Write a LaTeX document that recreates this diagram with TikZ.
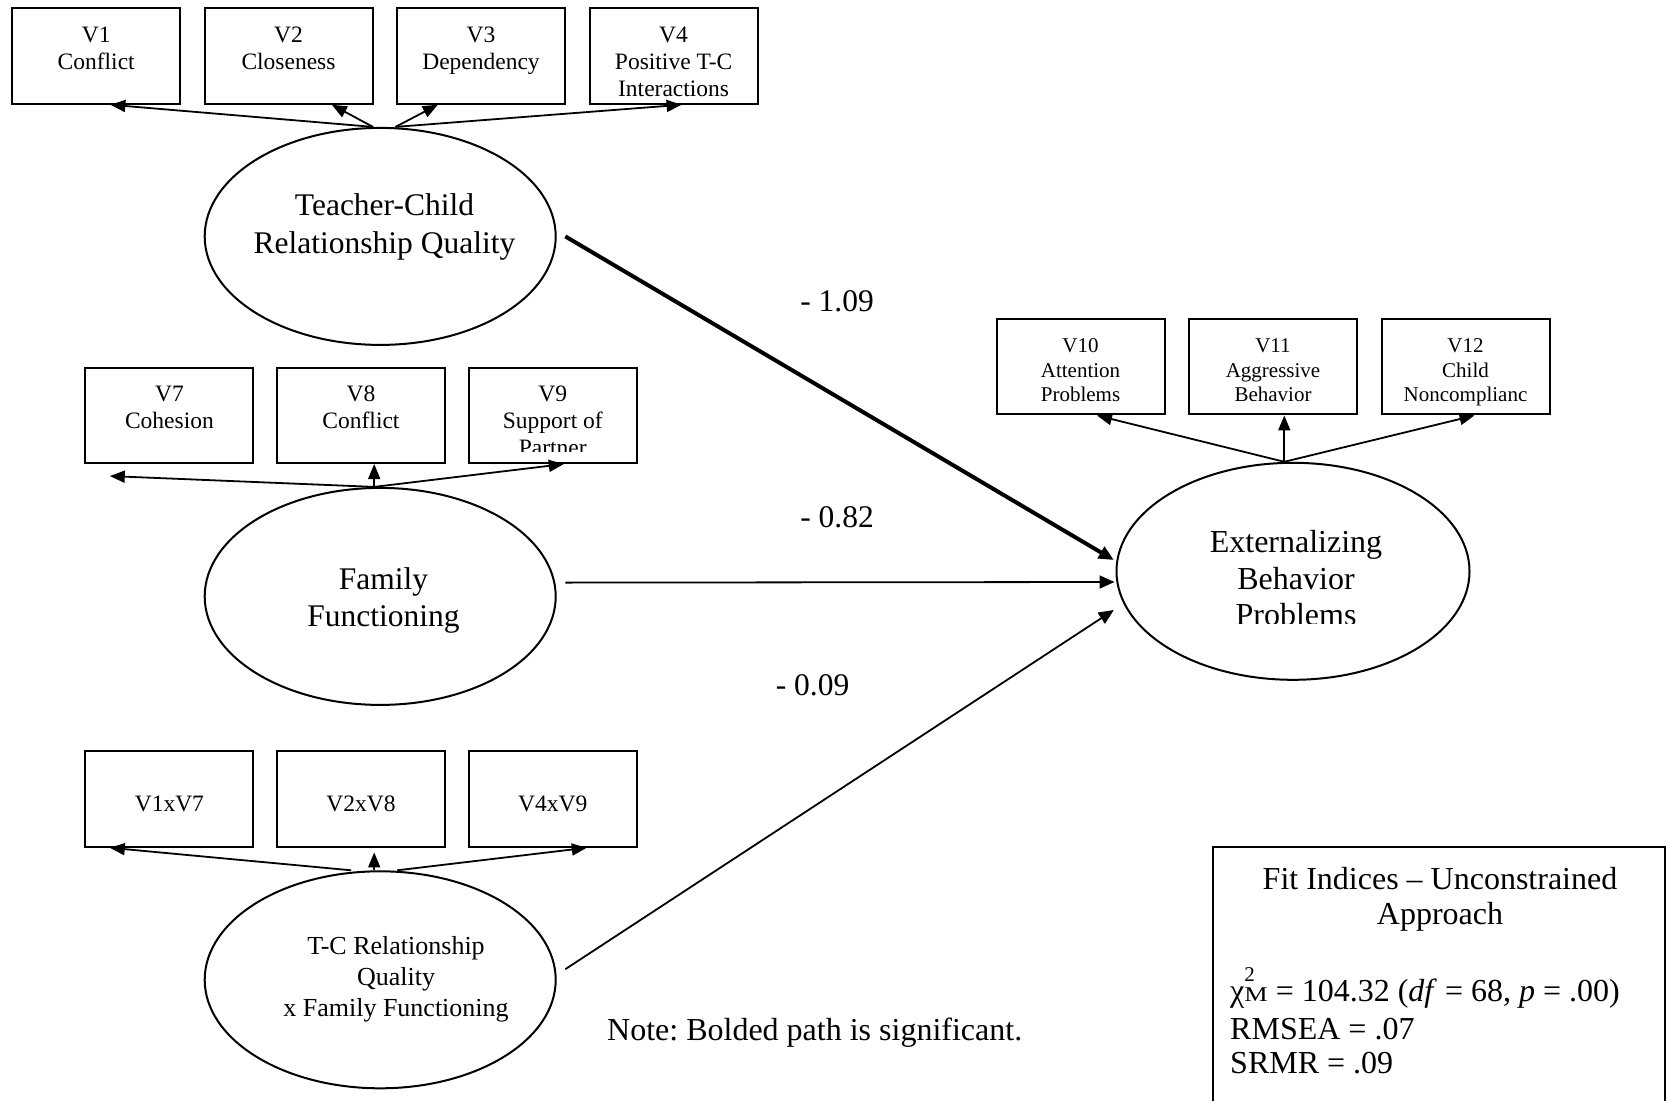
\documentclass[tikz,border=0pt]{standalone}
\usepackage{fontspec}
\usepackage{graphicx}
\setmainfont{Liberation Serif}
\usetikzlibrary{arrows.meta,calc,shapes.geometric}
\frenchspacing

\begin{document}
\begin{tikzpicture}[x=1pt,y=-1pt,
  box/.style={draw,line width=2pt,minimum width=168pt,minimum height=95.5pt,inner sep=0pt},
  latent/.style={draw,ellipse,line width=2pt,minimum width=351pt,minimum height=217pt,inner sep=0pt},
  boxtext/.style={font=\fontsize{23.5}{27.2}\selectfont,align=center,inner sep=0pt,anchor=north},
  smalltext/.style={font=\fontsize{21}{24.8}\selectfont,align=center,inner sep=0pt,anchor=north},
  latenttext/.style={font=\fontsize{31.5}{38.3}\selectfont,align=center,inner sep=0pt,anchor=north},
  load/.style={line width=1.8pt,-{Triangle[length=15pt,width=12pt]}},
  effect/.style={line width=1.8pt,-{Triangle[length=15pt,width=13pt]}},
  effectbold/.style={line width=4pt,-{Triangle[length=15pt,width=13pt]}},
  coef/.style={font=\fontsize{31.5}{36}\selectfont,inner sep=0pt},
  fittext/.style={font=\fontsize{32}{36}\selectfont,inner sep=0pt}
]
\useasboundingbox (0,0) rectangle (1670,1100);

% Teacher-child relationship indicators
\node[box] (v1) at (96.2,56) {};
\node[box] (v2) at (288.5,56) {};
\node[box] (v3) at (481,56) {};
\node[box] (v4) at (673.6,56) {};
\node[boxtext] (v1t) at (96.2,26.6) {V1\\Conflict};
\node[boxtext] (v2t) at (288.5,26.6) {V2\\Closeness};
\node[boxtext] (v3t) at (481,26.6) {V3\\Dependency};
\node[boxtext] (v4t) at (673.6,26.6) {V4\\Positive T-C\\Interactions};

% Family functioning indicators
\node[box] (v7) at (169.4,415.3) {};
\node[box] (v8) at (361,415.3) {};
\node[box] (v9) at (552.8,415.3) {};
\node[boxtext] (v7t) at (169.4,385.6) {V7\\Cohesion};
\node[boxtext] (v8t) at (361,385.6) {V8\\Conflict};
\begin{scope}
  \clip (v9.north west) rectangle ($(v9.east)+(0,36.4)$);
  \node[boxtext] (v9t) at (552.8,385.6) {V9\\Support of\\Partner};
\end{scope}

% Product indicators
\node[box] (v17) at (169.4,799) {};
\node[box] (v28) at (361,799) {};
\node[box] (v49) at (552.8,799) {};
\node[boxtext,anchor=center] (v17t) at (169.4,804) {V1xV7};
\node[boxtext,anchor=center] (v28t) at (361,804) {V2xV8};
\node[boxtext,anchor=center] (v49t) at (552.8,804) {V4xV9};

% Outcome indicators
\node[box] (v10) at (1080.5,366.7) {};
\node[box] (v11) at (1273,366.7) {};
\node[box] (v12) at (1465.5,366.7) {};
\node[smalltext] (v10t) at (1080.5,338.2) {V10\\Attention\\Problems};
\node[smalltext] (v11t) at (1273,338.2) {V11\\Aggressive\\Behavior};
\node[smalltext] (v12t) at (1465.5,338.2) {V12\\Child\\Noncomplianc};

% Latent variables
\node[latent] (tcrq) at (380.2,236.4) {};
\node[latent] (fam) at (380.2,596.4) {};
\node[latent] (inter) at (380.2,979.8) {};
\node[latent,minimum width=353pt] (ext) at (1293,571.3) {};

\node[latenttext] (tcrqt) at (384.5,193.5) {Teacher-Child\\Relationship Quality};
\node[latenttext,font=\fontsize{31.5}{37.3}\selectfont] (famt) at (383.4,567.3) {Family\\Functioning};
\node[latenttext,font=\fontsize{26}{31}\selectfont] (intert) at (396,936.6) {T-C Relationship\\Quality\\x Family Functioning};
\begin{scope}
  \clip ($(ext.north west)+(0,-5)$) rectangle ($(ext.east)+(0,52)$);
  \node[latenttext,font=\fontsize{32}{36.8}\selectfont] (extt) at (1296,529.8) {Externalizing\\Behavior\\Problems};
\end{scope}

% Measurement paths
\draw[load] ($(tcrq.north)+(-7.2,0)$) -- ($(v1.south)+(14.2,0)$);
\draw[load] ($(tcrq.north)+(-7.2,0)$) -- ($(v2.south)+(43.3,0)$);
\draw[load] ($(tcrq.north)+(15.3,0)$) -- ($(v3.south)+(-43.2,0)$);
\draw[load] ($(tcrq.north)+(15.3,0)$) -- ($(v4.south)+(8,0)$);

\draw[load] ($(fam.north)+(-6,0)$) -- ($(v7.south)+(-59.6,12)$);
\draw[load] ($(fam.north)+(-6,0)$) -- ($(v8.south)+(13.2,0)$);
\draw[load] ($(fam.north)+(-6,0)$) -- ($(v9.south)+(11,0)$);

\draw[load] ($(inter.north)+(-29,0)$) -- ($(v17.south)+(-59.6,0)$);
\draw[load] ($(inter.north)+(-6,0)$) -- ($(v28.south)+(13.2,4.7)$);
\draw[load] ($(inter.north)+(17,0)$) -- ($(v49.south)+(34,0)$);

\draw[load] ($(ext.north)+(-8.7,0)$) -- ($(v10.south)+(16.5,0)$);
\draw[load] ($(ext.north)+(-8.7,0)$) -- ($(v11.south)+(11.3,0)$);
\draw[load] ($(ext.north)+(-8.7,0)$) -- ($(v12.south)+(9,0)$);

% Structural paths
\draw[effectbold] ($(tcrq.east)+(8.6,0)$) -- ($(ext.west)+(-1.7,-11.3)$);
\draw[effect] ($(fam.east)+(8.6,-13.8)$) -- ($(ext.west)+(-1,10.7)$);
\draw[effect] ($(inter.east)+(8.6,-10.6)$) -- ($(ext.west)+(-1.7,38.7)$);

\node[coef] (c1) at (837,301.4) {- 1.09};
\node[coef] (c2) at (837,517.6) {- 0.82};
\node[coef] (c3) at (812.6,684.8) {- 0.09};
\node[fittext] (note) at (814.7,1033) {Note: Bolded path is significant.};

% Fit indices panel
\draw[line width=2pt] (1213,1102) -- (1213,847) -- (1665,847) -- (1665,1102);
\node[fittext,anchor=base] (fit1) at (1440,889) {Fit Indices – Unconstrained};
\node[fittext,anchor=base] (fit2) at (1440,924) {Approach};
\node[fittext,anchor=base west] (fitchi) at (1230,1001) {χ\rlap{\raisebox{20pt}{\fontsize{21}{21}\selectfont 2}}\scalebox{1.25}[1]{\fontsize{21}{21}\selectfont M} = 104.32 (\textit{df} = 68, \textit{p} = .00)};
\node[fittext,anchor=base west] (fitrmsea) at (1230,1039) {RMSEA = .07};
\node[fittext,anchor=base west] (fitsrmr) at (1230,1073) {SRMR = .09};
\end{tikzpicture}
\end{document}
